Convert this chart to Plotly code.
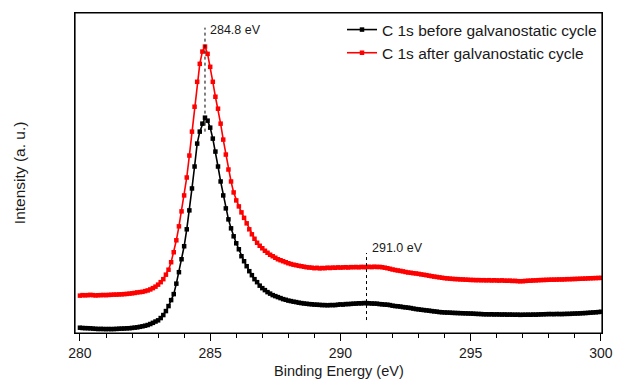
import plotly.graph_objects as go

# Binding energy grid (eV), 0.1 eV step
energy = [round(280.0 + 0.1 * i, 1) for i in range(201)]

# C 1s before galvanostatic cycle (a.u.)
before = [
    5.3, 5.0, 4.9, 4.8, 4.7, 4.4, 4.2, 4.0, 4.1, 4.0,
    3.9, 4.0, 3.9, 4.0, 4.1, 4.3, 4.4, 4.5, 4.7, 4.8,
    5.1, 5.4, 5.7, 6.2, 6.7, 7.3, 8.0, 9.0, 10.2, 11.5,
    12.7, 15.0, 18.0, 22.0, 27.0, 33.0, 39.0, 49.5, 61.0, 74.0,
    87, 104, 123, 145, 167, 190, 202, 210, 216, 213,
    206, 195, 182, 167, 152, 138, 125, 114, 105, 97,
    90, 84, 77, 72, 67, 62, 58, 54, 51, 47.5,
    45, 43, 41, 39.5, 38, 37, 36, 35, 34, 33.3,
    32.5, 32.0, 31.4, 31.0, 30.4, 30.0, 29.6, 29.3, 29.0, 28.8,
    28.5, 28.4, 28.2, 28.0, 28.0, 27.8, 28.0, 28.0, 28.0, 28.4,
    28.7, 28.5, 29.0, 29.0, 29.2, 29.4, 29.5, 29.8, 29.7, 30.0,
    30.0, 29.8, 29.6, 29.5, 29.4, 29.0, 28.8, 28.5, 28.4, 28.0,
    27.4, 27.0, 26.8, 26.5, 26.0, 25.7, 25.4, 25.0, 24.5, 24.0,
    23.7, 23.3, 23.0, 22.7, 22.4, 22.0, 21.7, 21.4, 21.0, 20.8,
    20.6, 20.5, 20.4, 20.2, 20.1, 20.0, 19.9, 19.8, 19.7, 19.6,
    19.5, 19.4, 19.2, 19.1, 19.0, 18.8, 18.8, 18.7, 18.8, 18.6,
    18.7, 18.6, 18.5, 18.6, 18.4, 18.5, 18.4, 18.3, 18.4, 18.2,
    18.3, 18.3, 18.4, 18.3, 18.5, 18.4, 18.6, 18.7, 18.8, 18.9,
    19.0, 19.0, 18.9, 19.1, 19.0, 19.0, 19.1, 19.2, 19.2, 19.4,
    19.5, 19.6, 19.7, 19.9, 20.0, 20.2, 20.4, 20.6, 20.8, 21.0,
    21.3,
]

# C 1s after galvanostatic cycle (a.u.)
after = [
    37.5, 38.0, 37.8, 38.0, 38.2, 38.0, 37.7, 37.9, 38.0, 38.1,
    38.0, 38.2, 38.3, 38.5, 38.5, 38.7, 38.8, 39.0, 39.2, 39.5,
    39.8, 40.2, 40.7, 41.0, 41.3, 42.0, 42.7, 43.7, 45.0, 46.5,
    48.5, 51.0, 54.0, 58.5, 63.5, 71.0, 81.0, 93.0, 107.0, 122.0,
    138, 156, 178, 202, 227, 252, 270, 282.3, 287.3, 280,
    267, 252, 237, 225, 210, 194, 179, 164, 152, 141,
    133, 127, 121, 115.5, 110, 104, 99, 94.5, 90.5, 87.5,
    85, 82.5, 80.5, 78.5, 77, 75.5, 74, 73, 72, 71,
    70, 69.2, 68.5, 68, 67.4, 67, 66.5, 66, 65.7, 65.5,
    65, 65.4, 64.8, 65.2, 65, 65.5, 65.2, 65.6, 65.4, 65.8,
    65.6, 65.8, 66.0, 65.7, 66.1, 66.0, 66.2, 65.9, 66.3, 66.1,
    66.2, 66.4, 66.1, 66.5, 66.2, 66.3, 66.0, 65.5, 65.0, 64.4,
    63.7, 63.2, 62.7, 62.3, 61.8, 61.2, 60.7, 60.4, 60.0, 59.7,
    59.3, 58.8, 58.4, 58.0, 57.5, 57.0, 56.6, 56.2, 55.8, 55.4,
    55.0, 54.8, 54.5, 54.3, 54.1, 54.0, 53.8, 53.7, 53.5, 53.4,
    53.2, 53.2, 53.0, 53.1, 52.9, 53.0, 52.8, 53.0, 52.7, 52.9,
    52.7, 52.6, 52.8, 52.5, 52.4, 52.5, 52.2, 52.3, 52.0, 51.9,
    52.0, 52.2, 52.4, 52.5, 52.7, 52.8, 53.0, 53.1, 53.2, 53.3,
    53.4, 53.5, 53.5, 53.6, 53.7, 53.7, 53.8, 54.0, 54.0, 54.1,
    54.2, 54.3, 54.4, 54.5, 54.6, 54.8, 54.9, 55.0, 55.1, 55.2,
    55.3,
]

series_names = ["C 1s before galvanostatic cycle", "C 1s after galvanostatic cycle"]
series_colors = ["#000000", "#ff0000"]

# Marked positions
mark_energies = [284.8, 291.0]
mark_labels = ["284.8 eV", "291.0 eV"]

x_ticks = [280, 285, 290, 295, 300]

FONT = "Liberation Sans, Arial, sans-serif"
TXT = "#1a1a1a"

fig = go.Figure()
for name, ys, col in zip(series_names, [before, after], series_colors):
    fig.add_trace(go.Scatter(
        x=energy, y=ys, name=name, mode="lines+markers",
        line=dict(color=col, width=1.6),
        marker=dict(color=col, size=4.5, symbol="square"),
    ))

# dotted marker lines and labels derived from the data
below_pad = [14, 17]
above_pad = [19, 14]
label_shift = [-2, 5]
for e, lab, bp, ap, ls in zip(mark_energies, mark_labels, below_pad, above_pad, label_shift):
    i = energy.index(e)
    y0 = before[i] - bp
    y1 = after[i] + ap
    fig.add_shape(type="line", xref="x", yref="y", x0=e, x1=e, y0=y0, y1=y1,
                  line=dict(color="#000000", width=1, dash="dot"))
    fig.add_annotation(x=e, y=y1, xref="x", yref="y", text=lab, showarrow=False,
                       xanchor="left", yanchor="middle", xshift=3, yshift=ls,
                       font=dict(family=FONT, size=12.5, color=TXT))

# plot frame
fig.add_shape(type="rect", xref="paper", yref="paper", x0=0, x1=1, y0=0, y1=1,
              line=dict(color="#000000", width=1.2), fillcolor="rgba(0,0,0,0)", layer="above")

fig.add_annotation(xref="paper", yref="paper", x=-0.106, y=0.5, text="Intensity (a. u.)",
                   textangle=-90, showarrow=False, xanchor="center", yanchor="middle",
                   font=dict(family=FONT, size=15.5, color=TXT))

fig.add_annotation(xref="paper", yref="paper", x=0.5, y=-0.12, text="Binding Energy (eV)",
                   showarrow=False, xanchor="center", yanchor="middle",
                   font=dict(family=FONT, size=14.5, color=TXT))

fig.update_layout(
    width=625, height=382,
    margin=dict(l=75, r=13, t=12, b=49),
    paper_bgcolor="white", plot_bgcolor="white",
    font=dict(family=FONT, size=14, color=TXT),
    showlegend=True,
    legend=dict(x=1.0, y=1.0, xanchor="right", yanchor="top",
                bgcolor="rgba(0,0,0,0)", font=dict(family=FONT, size=15.5, color=TXT),
                tracegroupgap=0, itemwidth=30),
    xaxis=dict(range=[279.81, 300.04], tickvals=x_ticks, ticks="outside", ticklen=7,
               tickcolor="black", tickwidth=1,
               minor=dict(dtick=1, ticks="outside", ticklen=4, tickcolor="black", tickwidth=1),
               showline=True, linecolor="black", linewidth=1, mirror=True,
               showgrid=False, zeroline=False,
               tickfont=dict(family=FONT, size=14, color=TXT)),
    yaxis=dict(range=[0, 321], showticklabels=False, ticks="",
               showline=True, linecolor="black", linewidth=1, mirror=True,
               showgrid=False, zeroline=False),
)

# remove the browser's default 8px body margin so the 625x382 figure fills the window exactly
fig.write_html(
    "out.html",
    config={"displayModeBar": False},
    post_script="document.documentElement.style.margin='0';document.body.style.margin='0';"
                "document.documentElement.style.overflow='hidden';document.body.style.overflow='hidden';",
)
